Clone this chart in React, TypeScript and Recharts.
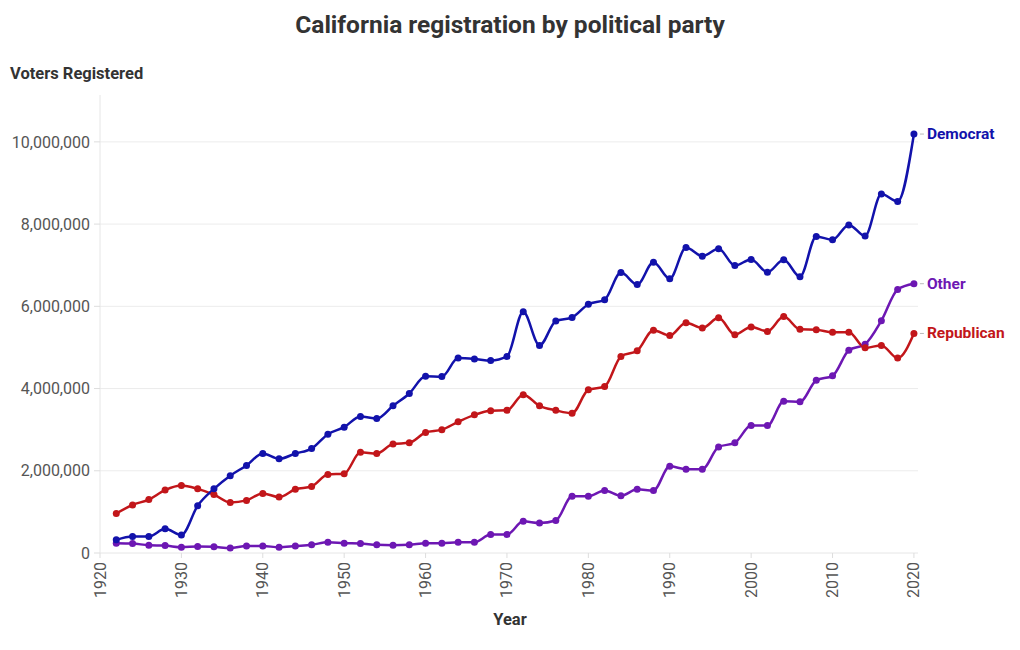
import React from "react";
import { LineChart, Line, XAxis, YAxis, ReferenceLine } from "recharts";

const years = [1922,1924,1926,1928,1930,1932,1934,1936,1938,1940,1942,1944,1946,1948,1950,1952,1954,1956,1958,1960,1962,1964,1966,1968,1970,1972,1974,1976,1978,1980,1982,1984,1986,1988,1990,1992,1994,1996,1998,2000,2002,2004,2006,2008,2010,2012,2014,2016,2018,2020];

const democrat = [320000,400000,400000,590000,440000,1150000,1560000,1880000,2130000,2420000,2290000,2420000,2540000,2890000,3060000,3320000,3270000,3580000,3880000,4300000,4290000,4740000,4720000,4680000,4780000,5870000,5050000,5640000,5730000,6050000,6160000,6820000,6530000,7070000,6670000,7430000,7220000,7400000,6990000,7140000,6830000,7130000,6720000,7700000,7620000,7980000,7710000,8730000,8550000,10190000];

const republican = [960000,1170000,1300000,1530000,1640000,1560000,1420000,1230000,1280000,1450000,1360000,1550000,1620000,1910000,1930000,2450000,2420000,2650000,2680000,2930000,3000000,3190000,3360000,3460000,3470000,3850000,3580000,3470000,3400000,3970000,4050000,4780000,4920000,5420000,5290000,5600000,5470000,5720000,5310000,5500000,5390000,5750000,5440000,5430000,5370000,5370000,4990000,5050000,4740000,5340000];

const other = [240000,230000,190000,180000,140000,160000,150000,120000,170000,170000,140000,170000,200000,260000,240000,230000,200000,190000,200000,240000,240000,260000,260000,450000,450000,770000,730000,790000,1380000,1380000,1520000,1390000,1550000,1520000,2110000,2040000,2040000,2580000,2680000,3100000,3100000,3690000,3680000,4200000,4310000,4930000,5080000,5650000,6410000,6550000];

const xTicks = [1920,1930,1940,1950,1960,1970,1980,1990,2000,2010,2020];
const yTicks = [0,2000000,4000000,6000000,8000000,10000000];

const data = years.map((y, i) => ({
  year: y,
  Democrat: democrat[i],
  Republican: republican[i],
  Other: other[i],
}));

const COLORS = {
  Democrat: "#1212ab",
  Republican: "#c2161a",
  Other: "#6d17b3",
};

const FONT = "Roboto, 'Noto Sans', sans-serif";

const XTick = (props: any) => {
  const { x, y, payload } = props;
  return (
    <text
      x={0}
      y={0}
      transform={`translate(${x},${y + 2}) rotate(-90)`}
      textAnchor="end"
      dominantBaseline="central"
      fontSize={16}
      fill="#555"
      fontFamily={FONT}
    >
      {payload.value}
    </text>
  );
};

const makeEndLabel = (name: string, color: string) => (props: any) => {
  const { x, y, index } = props;
  if (index !== years.length - 1) return null;
  return (
    <g>
      <line x1={x + 6} x2={x + 10} y1={y} y2={y} stroke="#bbb" strokeWidth={1} />
      <text
        x={x + 13}
        y={y}
        dominantBaseline="central"
        fontSize={15.5}
        fontWeight={700}
        fill={color}
        fontFamily={FONT}
      >
        {name}
      </text>
    </g>
  );
};

export default function App() {
  return (
    <div style={{ position: "absolute", left: 0, top: 0, width: 1020, height: 650, background: "#fff", fontFamily: FONT }}>
      <div style={{ position: "absolute", left: 0, width: 1020, top: 10, textAlign: "center", fontSize: 24.5, fontWeight: 700, color: "#333" }}>
        California registration by political party
      </div>
      <div style={{ position: "absolute", left: 10, top: 64, fontSize: 16.5, fontWeight: 700, color: "#333" }}>
        Voters Registered
      </div>
      <div style={{ position: "absolute", left: 0, width: 1020, top: 610, textAlign: "center", fontSize: 16.5, fontWeight: 700, color: "#333" }}>
        Year
      </div>
      <LineChart
        width={1020}
        height={650}
        data={data}
        margin={{ top: 95, right: 102, bottom: 47, left: 10 }}
      >
        {yTicks.slice(1).map((t) => (
          <ReferenceLine key={t} y={t} stroke="#ececec" strokeWidth={1} />
        ))}
        <XAxis
          dataKey="year"
          type="number"
          domain={[1920, 2020.5]}
          ticks={xTicks}
          interval={0}
          height={50}
          tick={<XTick />}
          tickSize={5}
          tickLine={{ stroke: "#ddd" }}
          axisLine={{ stroke: "#e6e6e6" }}
        />
        <YAxis
          type="number"
          domain={[0, 11140000]}
          ticks={yTicks}
          width={90}
          tickSize={6}
          tickMargin={4}
          tickLine={{ stroke: "#ddd" }}
          axisLine={{ stroke: "#e6e6e6" }}
          tickFormatter={(v: number) => v.toLocaleString("en-US")}
          tick={{ fontSize: 16, fill: "#555", fontFamily: FONT }}
        />
        {(["Other", "Republican", "Democrat"] as const).map((k) => (
          <Line
            key={k}
            type="monotoneX"
            dataKey={k}
            stroke={COLORS[k]}
            strokeWidth={2.5}
            dot={{ r: 3.5, fill: COLORS[k], stroke: COLORS[k], strokeWidth: 0 }}
            isAnimationActive={false}
            label={makeEndLabel(k, COLORS[k])}
          />
        ))}
      </LineChart>
    </div>
  );
}
